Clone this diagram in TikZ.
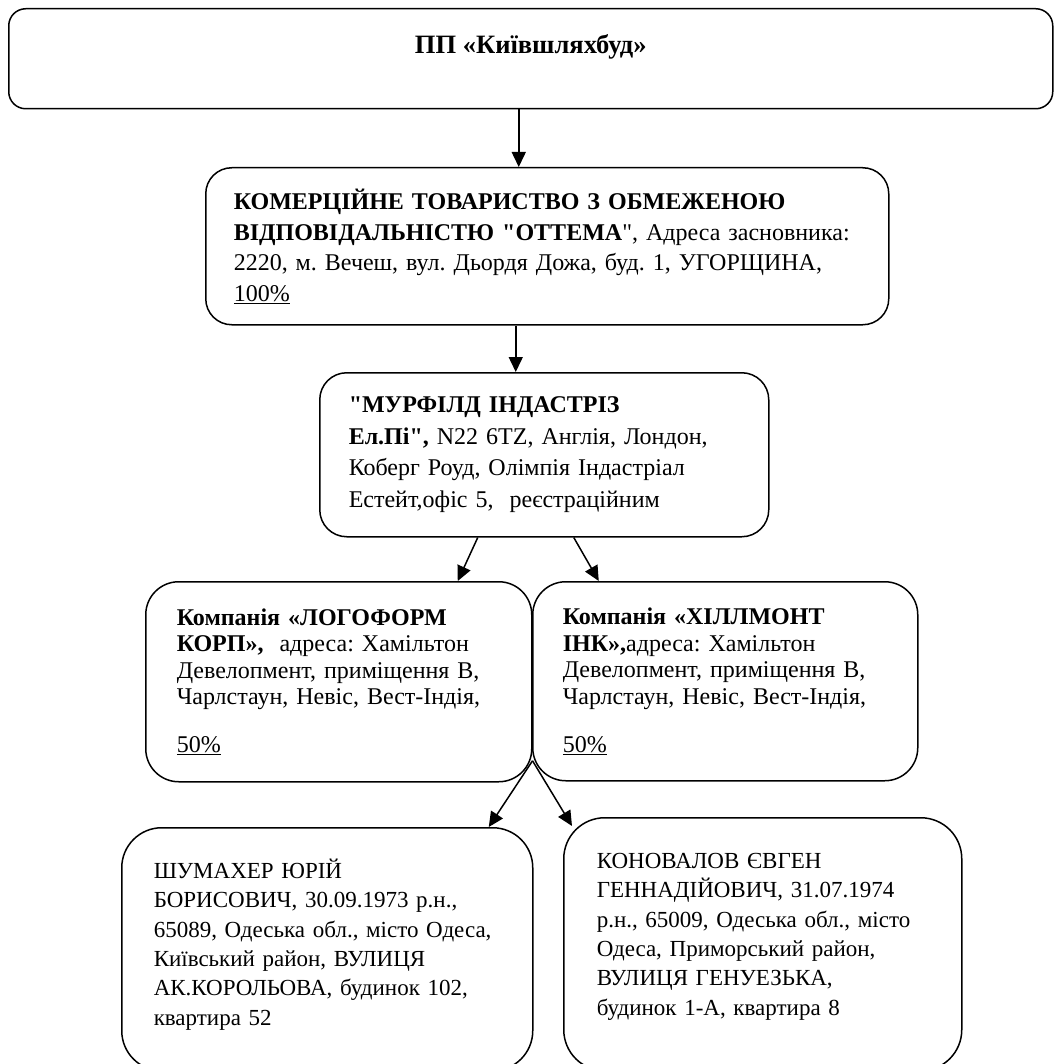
\documentclass[tikz,border=0pt]{standalone}
\usepackage{fontspec}
\setmainfont{Liberation Serif}
\usetikzlibrary{arrows.meta}
\frenchspacing
% straight double quote, bypassing the tex-text mapping
\newcommand{\dq}{\XeTeXglyph\XeTeXcharglyph"22\relax}

\begin{document}
\begin{tikzpicture}[x=1pt, y=-1pt,
  box/.style = {draw, line width=1.5pt, rectangle, align=left, anchor=north west, inner ysep=0pt, font=\fontsize{24}{29}\selectfont},
  arr/.style = {line width=1.5pt, -{Triangle[length=15pt, width=14pt]}}]
\clip (0,0) rectangle (1059,1064);

\node[box, rounded corners=17pt, align=center, minimum width=1044pt, minimum height=100pt, font=\fontsize{26.5}{30}\selectfont] (kyiv) at (8,8) {\textbf{ПП «Київшляхбуд»}\\ \mbox{}};

\node[box, rounded corners=26pt, inner xsep=28pt, text width=627pt, minimum height=157pt, font=\fontsize{24}{30.5}\selectfont] (ottema) at (205,167)
  {\textbf{КОМЕРЦІЙНЕ ТОВАРИСТВО З ОБМЕЖЕНОЮ}\\
   \textbf{ВІДПОВІДАЛЬНІСТЮ \dq ОТТЕМА}\dq, Адреса засновника:\\
   2220, м. Вечеш, вул. Дьордя Дожа, буд. 1, УГОРЩИНА,\\
   \underline{100\%}};

\node[box, rounded corners=27pt, inner xsep=29pt, text width=391pt, minimum height=164pt, font=\fontsize{24}{31.7}\selectfont] (murfild) at (319,372)
  {\textbf{\dq МУРФІЛД ІНДАСТРІЗ}\\
   \textbf{Ел.Пі\dq,} N22 6TZ, Англія, Лондон,\\
   Коберг Роуд, Олімпія Індастріал\\
   Естейт,офіс 5,\ \ реєстраційним};

\node[box, rounded corners=33pt, inner xsep=31pt, text width=324pt, minimum height=200pt, font=\fontsize{24}{26.5}\selectfont] (logoform) at (145,581)
  {\textbf{Компанія «ЛОГОФОРМ}\\
   \textbf{КОРП»,}\ \ адреса: Хамільтон\\
   Девелопмент, приміщення В,\\
   Чарлстаун, Невіс, Вест-Індія,\\[21.5pt]
   \underline{50\%}};

\node[box, rounded corners=33pt, inner xsep=30pt, text width=325pt, minimum height=199pt, font=\fontsize{24}{26.5}\selectfont] (hillmont) at (532,581)
  {\textbf{Компанія «ХІЛЛМОНТ}\\
   \textbf{ІНК»,}адреса: Хамільтон\\
   Девелопмент, приміщення В,\\
   Чарлстаун, Невіс, Вест-Індія,\\[21.5pt]
   \underline{50\%}};

\node[box, rounded corners=40pt, inner xsep=32pt, text width=347pt, minimum height=243pt, font=\fontsize{23}{29.3}\selectfont] (shumakher) at (121,827)
  {ШУМАХЕР ЮРІЙ\\
   БОРИСОВИЧ, 30.09.1973 р.н.,\\
   \mbox{65089, Одеська обл., місто Одеса,}\\
   Київський район, ВУЛИЦЯ\\
   АК.КОРОЛЬОВА, будинок 102,\\
   квартира 52\\[-15pt]\mbox{}};

\node[box, rounded corners=41pt, inner xsep=33pt, text width=332pt, minimum height=253pt, font=\fontsize{23}{29.3}\selectfont] (konoval) at (563,817)
  {КОНОВАЛОВ ЄВГЕН\\
   ГЕННАДІЙОВИЧ, 31.07.1974\\
   \mbox{р.н., 65009, Одеська обл., місто}\\
   Одеса, Приморський район,\\
   ВУЛИЦЯ ГЕНУЕЗЬКА,\\
   будинок 1-А, квартира 8\\[-9.4pt]\mbox{}};

\draw[arr] ([xshift=-12pt]kyiv.south) -- ([xshift=-28.5pt]ottema.north);
\draw[arr] ([xshift=-31.5pt]ottema.south) -- ([xshift=-28.5pt]murfild.north);
\draw[arr] ([xshift=-66.5pt]murfild.south) -- ([xshift=119pt]logoform.north);
\draw[arr] ([xshift=29.5pt]murfild.south) -- ([xshift=-126.5pt]hillmont.north);
\draw[arr] ([yshift=-79pt]logoform.east) -- ([xshift=161.5pt]shumakher.north);
\draw[arr] ([yshift=-79pt]logoform.east) -- ([xshift=9pt,yshift=-9pt]konoval.north west);
\end{tikzpicture}
\end{document}
